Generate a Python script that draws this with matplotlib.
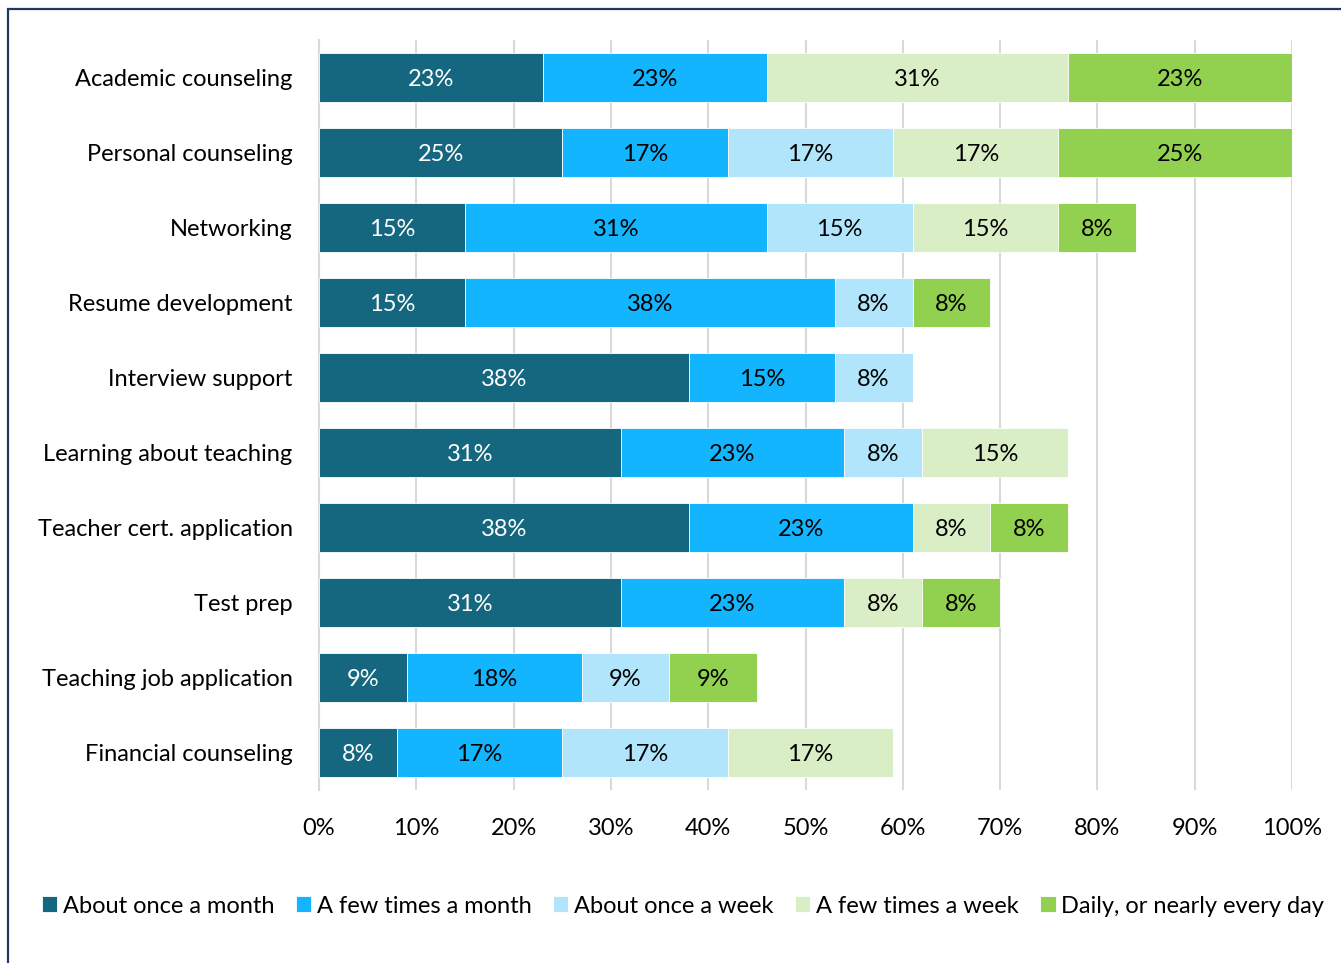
import numpy as np
import matplotlib.pyplot as plt
from matplotlib.patches import Rectangle

plt.rcParams['font.family'] = ['Lato', 'DejaVu Sans']

categories = [
    "Academic counseling",
    "Personal counseling",
    "Networking",
    "Resume development",
    "Interview support",
    "Learning about teaching",
    "Teacher cert. application",
    "Test prep",
    "Teaching job application",
    "Financial counseling",
]
series_names = [
    "About once a month",
    "A few times a month",
    "About once a week",
    "A few times a week",
    "Daily, or nearly every day",
]
once_month = [23, 25, 15, 15, 38, 31, 38, 31, 9, 8]
few_month = [23, 17, 31, 38, 15, 23, 23, 23, 18, 17]
once_week = [0, 17, 15, 8, 8, 8, 0, 0, 9, 17]
few_week = [31, 17, 15, 0, 0, 15, 8, 8, 0, 17]
daily = [23, 25, 8, 8, 0, 0, 8, 8, 9, 0]

colors = ["#15677F", "#13B5FE", "#B1E5FC", "#DAEEC6", "#92D050"]
text_colors = ["white", "black", "black", "black", "black"]
FS = 17

fig = plt.figure(figsize=(13.41, 9.63), dpi=100)
ax = fig.add_axes([319 / 1341, 1 - 790 / 963, (1292 - 319) / 1341, 750 / 963])

y = np.arange(len(categories))
left = np.zeros(len(categories))
for vals, name, col, tcol in zip([once_month, few_month, once_week, few_week, daily],
                                  series_names, colors, text_colors):
    vals = np.array(vals, dtype=float)
    bars = ax.barh(y, vals, left=left, height=0.66, color=col, edgecolor="white",
                   linewidth=0.6, label=name, zorder=3)
    for b, v in zip(bars, vals):
        if v > 0:
            ax.text(b.get_x() + b.get_width() / 2, b.get_y() + b.get_height() / 2 + 0.02,
                    f"{int(v)}%", ha="center", va="center", color=tcol,
                    fontsize=FS, zorder=4)
    left += vals

ax.set_xlim(0, 100)
ax.set_ylim(len(categories) - 0.5, -0.5)
ax.set_xticks(np.arange(0, 101, 10))
ax.set_xticklabels([f"{t}%" for t in range(0, 101, 10)], fontsize=FS)
ax.set_yticks(y)
ax.set_yticklabels(categories, fontsize=FS)
ax.tick_params(axis="both", length=0)
ax.tick_params(axis="y", pad=19)
ax.tick_params(axis="x", pad=20)
ax.grid(axis="x", color="#D9D9D9", linewidth=1.5, zorder=0)
for s in ["top", "right", "bottom"]:
    ax.spines[s].set_visible(False)
ax.spines["left"].set_color("#D9D9D9")
ax.spines["left"].set_linewidth(1.5)

fig.legend(loc="center", bbox_to_anchor=(683 / 1341, 1 - 906 / 963), ncol=5,
           frameon=False, fontsize=FS, handlelength=0.65, handleheight=0.65,
           handletextpad=0.25, columnspacing=0.9)

# outer frame line along the left and top edges
fig.patches.append(Rectangle((8 / 1341, -0.1), 1.2, 1 - 9 / 963 + 0.1,
                             transform=fig.transFigure, fill=False,
                             edgecolor="#1F3864", linewidth=1.6))

fig.savefig("out.png", dpi=100)
